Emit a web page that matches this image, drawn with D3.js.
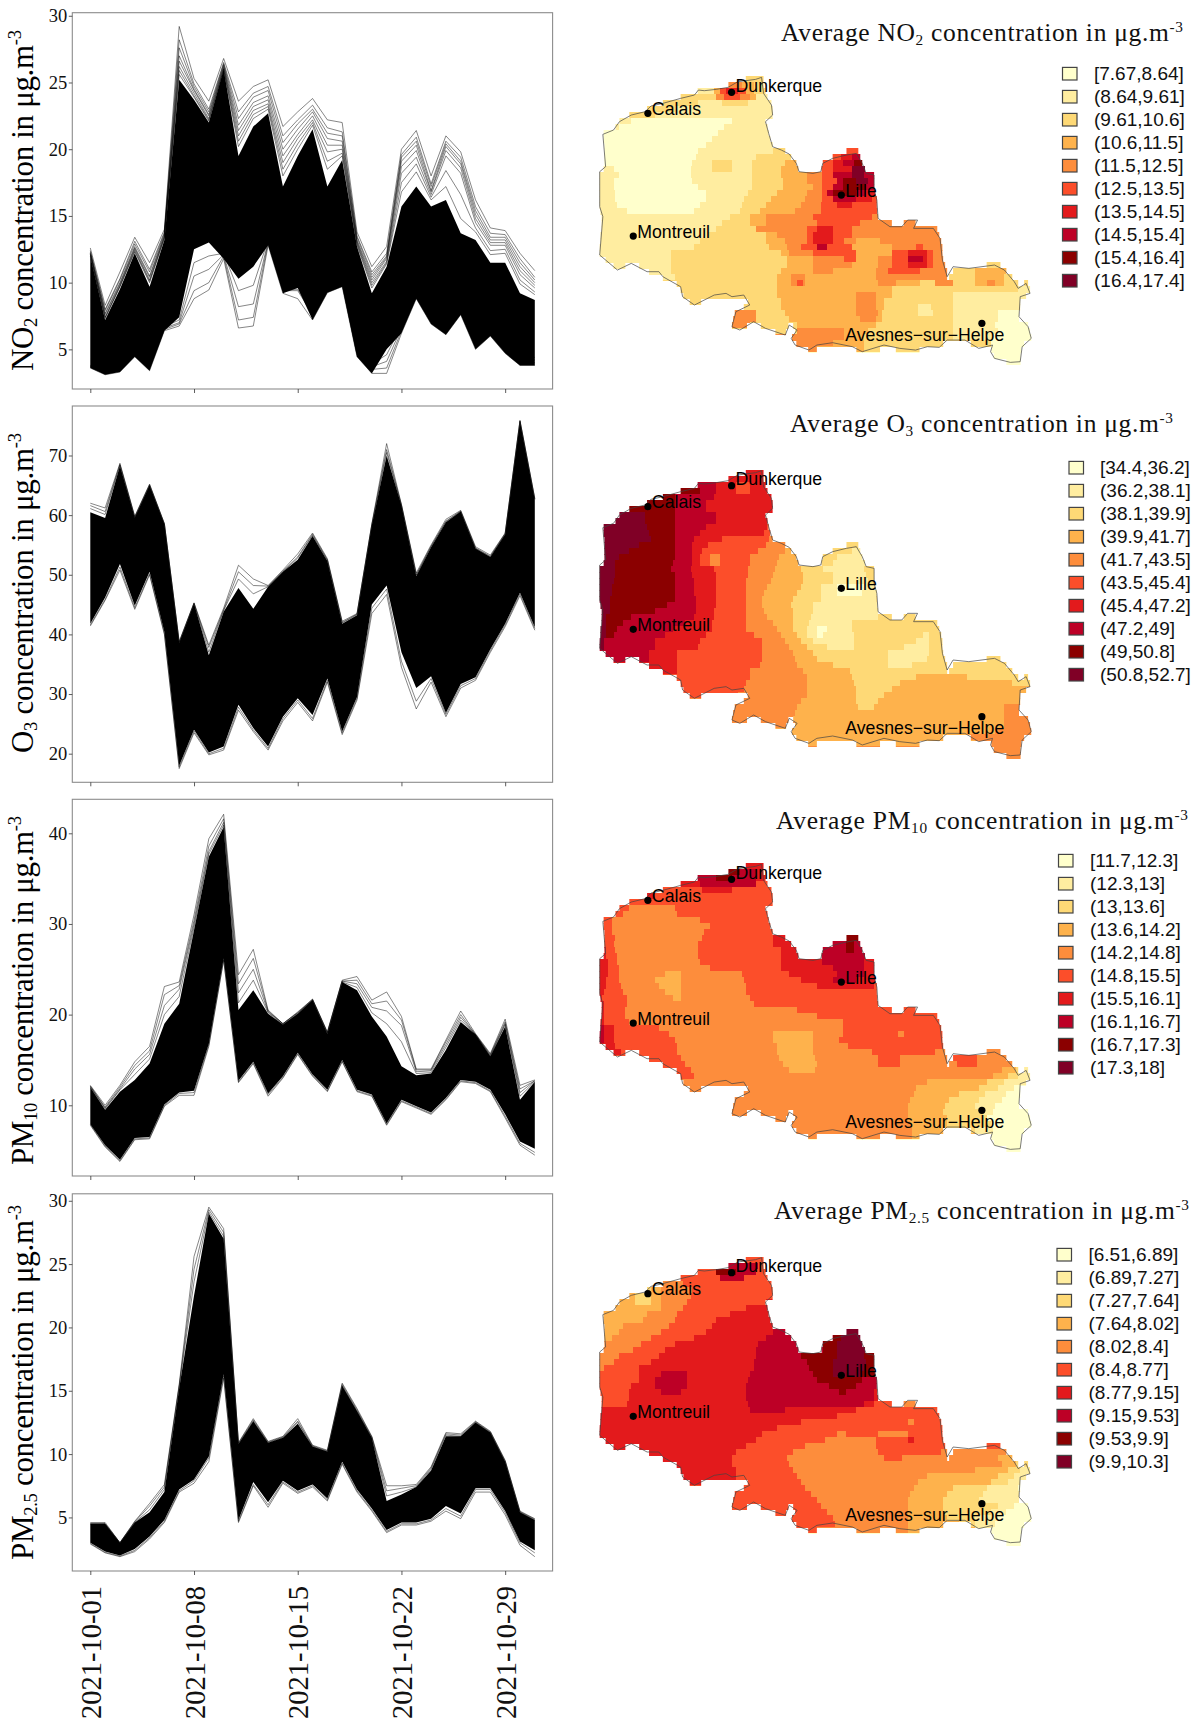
<!DOCTYPE html>
<html>
<head>
<meta charset="utf-8">
<script src="https://cdn.jsdelivr.net/npm/d3@7"></script>
<style>
  body { margin: 0; background: #fff; overflow: hidden; }
  svg { display: block; }
</style>
</head>
<body>
<script>
var width = 1199;
var height = 1720;

// time series (Oct 1 to Oct 31)
// Max/Min = outermost thin line, Top/Bottom = edges of the solid black mass
var no2Max = [12.6,8.3,10.8,13.4,11.5,14,29.2,25.3,23.6,26.8,23.6,24.7,25.2,21.7,22.8,23.8,22.2,22,13.8,11.2,12.7,20,21.4,18,21,19.8,16.2,14.1,13.9,12.2,10.9];
var no2Top = [12,7.2,9.5,12.2,9.7,13.2,25.2,23.7,22,26,19.5,21.7,22.7,17.2,19.5,21.5,17.2,19.2,12.7,9.2,11.2,15.7,17.2,15.7,16.2,13.7,13.2,11.5,11.5,9.2,8.7];
var no2Bottom = [3.6,3.1,3.3,4.45,3.4,6.4,7.4,12.5,13,11.8,10.3,11.2,12.8,9.2,9.6,7.2,9.25,9.7,4.45,3.2,5,6.2,8.8,6.9,6.1,7.6,5,6,4.7,3.8,3.8];
var no2Min = [3.6,3.1,3.3,4.45,3.4,6.4,6.75,8.8,9.45,11.8,6.6,6.75,12.8,9.2,8.8,7.2,9.25,9.7,4.45,3.2,3.2,6.2,8.8,6.9,6.1,7.6,5,6,4.7,3.8,3.8];
var no2Lines = [
  [12.4,8,10.3,13.1,11,13.8,28.2,24.9,23,26.5,22.8,24.2,24.7,21,22.2,23.3,21.6,21.3,13.5,10.8,12.2,19.6,20.9,17.4,20.6,19.4,15.7,13.7,13.6,11.8,10.4],
  [12.3,7.9,10.2,12.9,10.8,13.7,27.6,24.7,22.8,26.4,22.3,23.9,24.4,20.5,21.9,23,21.2,21,13.4,10.6,12,19.4,20.6,17.2,20.4,19.1,15.4,13.4,13.4,11.5,10.2],
  [12.2,7.7,10,12.7,10.5,13.6,27,24.5,22.6,26.3,21.8,23.5,24,20,21.5,22.8,20.8,20.6,13.2,10.4,11.9,19.1,20.3,16.9,20.2,18.9,15.1,13.2,13.2,11.2,10],
  [12.2,7.6,9.9,12.6,10.4,13.5,26.6,24.4,22.5,26.2,21.4,23.2,23.7,19.5,21.1,22.5,20.3,20.3,13.1,10.2,11.8,18.7,19.9,16.8,19.9,18.6,14.8,13,13,10.9,9.8],
  [12.1,7.4,9.8,12.5,10.2,13.4,26.2,24.2,22.3,26.1,21,22.9,23.4,19,20.8,22.2,19.8,20,13,10,11.6,18.2,19.4,16.6,19.5,18.2,14.5,12.8,12.8,10.6,9.6],
  [12.1,7.4,9.7,12.4,10.1,13.4,25.9,24,22.2,26,20.6,22.6,23.2,18.5,20.4,22,19.1,19.7,12.9,9.8,11.5,17.5,18.9,16.4,18.4,16.6,14.1,12.4,12.5,10.2,9.3],
  [12,7.3,9.7,12.3,10,13.3,25.6,23.9,22.1,26,20.2,22.3,23,18,20,21.8,18.5,19.5,12.8,9.6,11.4,16.8,18.3,16.2,17.2,14.8,13.8,12.1,12.2,9.9,9.1],
  [3.7,3.2,3.4,4.6,3.6,6.5,6.9,9.4,10,12,7.2,7.4,13,9.4,9.4,7.6,9.5,9.9,4.6,3.5,3.6,6.4,9,7.1,6.3,7.8,5.2,6.2,4.9,4,4],
  [3.7,3.3,3.5,4.7,3.7,6.6,7,10.5,11,12.1,8.2,8.4,13.1,9.5,9.5,7.8,9.7,10,4.7,3.7,4.1,6.6,9.2,7.3,6.5,8,5.4,6.4,5.1,4.2,4.2],
  [3.8,3.4,3.6,4.8,3.8,6.7,7.2,11.5,12,12.2,9.4,9.8,13.2,9.6,9.7,8,9.9,10.2,4.8,3.9,4.6,6.8,9.4,7.5,6.8,8.2,5.6,6.6,5.3,4.4,4.4]
];

var o3Max = [62,61.2,68.7,59.8,65.2,58.6,38.8,45.3,38.2,44.4,51.6,49.3,48.2,50.8,53.5,57,52.7,42.2,43.5,58.5,72,61.8,50.3,55,59.3,60.8,54.7,53.3,57,75.9,62.8];
var o3Top = [60.5,59.5,68.3,59.6,65,58.5,38.6,45.2,36.5,43.8,47.8,44.3,48,50.5,52.5,56.5,52.3,41.8,43.2,58.3,70,61.6,49.8,54.6,58.8,60.6,54.4,53,56.8,75.7,62.6];
var o3Bottom = [41.8,46.2,51.8,44.8,50.5,40.4,18,24,20.2,21.2,28.2,24.3,21.2,26.2,29.3,26.5,32.6,23.7,29.5,45,48.2,37,31,33,26.8,31.7,32.8,37.5,41.8,47,41.2];
var o3Min = [41.4,45.7,50.8,44.2,50,40,17.5,23.5,19.8,20.6,27.3,23.7,20.6,25.5,28.6,25.5,32,23.2,29,43.5,46.7,34.5,27.5,32,26.2,31,32.3,37,41.3,46.5,40.7];
var o3Lines = [
  [61.6,60.6,68.5,59.7,65.1,58.5,38.7,45.2,37.8,44.1,50.5,48.2,48.1,50.6,53,56.8,52.5,42,43.4,58.4,71,61.7,50,54.8,59,60.7,54.5,53.1,56.9,75.8,62.7],
  [61.1,60.1,68.4,59.6,65,58.5,38.6,45.2,37,44,49.3,46.8,48,50.5,52.8,56.6,52.4,41.9,43.3,58.3,70.5,61.6,49.9,54.7,58.9,60.6,54.4,53,56.8,75.7,62.6],
  [41.6,45.9,51.3,44.5,50.2,40.2,17.8,23.8,20,20.9,27.8,24,20.9,25.9,29,25.9,32.3,23.5,29.3,44.4,47.6,35.5,28.8,32.6,26.6,31.4,32.6,37.3,41.6,46.8,41]
];

var pm10Max = [12.2,10,12.2,14.8,16.5,23.1,23.6,31,39.4,42.1,24.4,27.2,20.5,19,20.3,21.7,18.1,23.8,24.2,21.6,22.5,19.8,14,14,17.2,20.4,17.9,15.7,19.5,12.2,12.8];
var pm10Top = [12,9.5,11.5,12.8,14.6,19,21.2,29.3,37.4,40.7,20.5,22.7,20.1,18.9,20.1,21.6,17.9,23.6,22.7,19.8,17.6,14.3,13.3,13.5,16.1,19.2,17.8,15.4,18.7,10.6,12.6];
var pm10Bottom = [7.9,5.6,4,6.4,6.5,10.1,11.4,11.6,16.8,26.2,12.7,14.8,11.3,13.2,15.8,13.4,11.7,15,11.7,11.2,8,10.6,9.9,9.2,10.8,12.8,12.6,11.7,9,6,5.2];
var pm10Min = [7.8,5.4,3.8,6.2,6.3,9.9,11.1,11.1,16.5,26,12.5,14.6,11,13,15.6,13.2,11.5,14.8,11.5,11,7.8,10.4,9.7,9,10.6,12.6,12.4,11.5,8.6,5.6,4.5];
var pm10Lines = [
  [12.1,9.8,12,14.4,16,22.2,23.2,30.4,38.6,41.6,23.4,26.2,20.4,19,20.2,21.7,18,23.7,23.8,21.2,21.5,19.4,13.9,13.9,17,20,17.8,15.6,19.2,11.8,12.7],
  [12.1,9.7,11.8,14,15.6,21,22.8,30,38,41.2,22.4,25,20.3,19,20.2,21.6,18,23.7,23.4,20.8,20.4,18.8,13.7,13.8,16.7,19.7,17.8,15.5,19,11.4,12.7],
  [12,9.6,11.7,13.4,15.1,20,22,29.6,37.7,40.9,21.3,23.8,20.2,18.9,20.1,21.6,17.9,23.6,23,20.2,19,17,13.5,13.6,16.4,19.4,17.8,15.4,18.9,11,12.6],
  [7.9,5.5,3.9,6.3,6.4,10,11.3,11.4,16.7,26.1,12.6,14.7,11.2,13.1,15.7,13.3,11.6,14.9,11.6,11.1,7.9,10.5,9.8,9.1,10.7,12.7,12.5,11.6,8.8,5.8,4.8]
];

var pm25Max = [4.6,4.6,3,4.7,6.1,7.6,15.5,25.6,29.5,27.8,10.9,12.8,11,11.4,12.8,10.7,10.3,15.6,13.6,11.4,7.5,7.5,7.6,9,11.7,11.6,12.6,11.8,9.5,5.5,4.9];
var pm25Top = [4.5,4.5,3,4.6,5.4,7,15.2,22.5,29,27,10.8,12.6,10.9,11.3,12.4,10.6,10.2,15.4,13.4,11.3,6.3,6.8,7.4,8.7,11.4,11.4,12.5,11.7,9.4,5.4,4.8];
var pm25Bottom = [3,2.3,2,2.5,3.5,4.8,7.2,8,9.8,16.3,4.8,7.8,6.2,7.9,7.1,7.6,6.5,9.4,7.2,5.7,4,4.6,4.6,4.9,5.9,5.3,7.3,7.3,5.5,3.1,2.4];
var pm25Min = [2.9,2.2,1.9,2.3,3.3,4.6,7,7.7,9.4,16,4.6,7.5,5.8,7.7,6.9,7.4,6.3,9.2,7,5.5,3.8,4.4,4.4,4.7,5.5,4.9,7,7,5.2,2.8,1.9];
var pm25Lines = [
  [4.5,4.5,3,4.65,5.9,7.4,15.4,24.6,29.3,27.5,10.85,12.7,10.95,11.35,12.6,10.65,10.25,15.5,13.5,11.35,7.1,7.3,7.5,8.9,11.6,11.5,12.55,11.75,9.45,5.45,4.85],
  [4.5,4.5,3,4.6,5.6,7.2,15.3,23.6,29.1,27.2,10.8,12.6,10.9,11.3,12.5,10.6,10.2,15.4,13.4,11.3,6.7,7,7.4,8.8,11.5,11.4,12.5,11.7,9.4,5.4,4.8],
  [2.95,2.25,1.95,2.4,3.4,4.7,7.1,7.9,9.7,16.2,4.7,7.6,6,7.8,7,7.5,6.4,9.3,7.1,5.6,3.9,4.5,4.5,4.8,5.7,5.1,7.2,7.2,5.4,3,2.2]
];

var no2Ticks = [5,10,15,20,25,30];
var o3Ticks = [20,30,40,50,60,70];
var pm10Ticks = [10,20,30,40];
var pm25Ticks = [5,10,15,20,25,30];
var dateTicks = ['2021-10-01','2021-10-08','2021-10-15','2021-10-22','2021-10-29'];

// legend classes
var no2Classes = ['[7.67,8.64]','(8.64,9.61]','(9.61,10.6]','(10.6,11.5]','(11.5,12.5]','(12.5,13.5]','(13.5,14.5]','(14.5,15.4]','(15.4,16.4]','(16.4,17.4]'];
var o3Classes = ['[34.4,36.2]','(36.2,38.1]','(38.1,39.9]','(39.9,41.7]','(41.7,43.5]','(43.5,45.4]','(45.4,47.2]','(47.2,49]','(49,50.8]','(50.8,52.7]'];
var pm10Classes = ['[11.7,12.3]','(12.3,13]','(13,13.6]','(13.6,14.2]','(14.2,14.8]','(14.8,15.5]','(15.5,16.1]','(16.1,16.7]','(16.7,17.3]','(17.3,18]'];
var pm25Classes = ['[6.51,6.89]','(6.89,7.27]','(7.27,7.64]','(7.64,8.02]','(8.02,8.4]','(8.4,8.77]','(8.77,9.15]','(9.15,9.53]','(9.53,9.9]','(9.9,10.3]'];
var classColors = ['#ffffcc','#ffeda0','#fed976','#feb24c','#fd8d3c','#fc4e2a','#e31a1c','#bd0026','#8b0000','#800026'];

// map rasters: one entry per grid row, [class, easting, class, easting, class ...]
// eastings in map units, the class changes at each easting
var no2Rows = [
  [2],[2,375,4,410,3,440,2],[1,340,3,355,5,370,6,400,5,420,3,440,2],[2,345,4,365,5,405,4,430,3,445,1],
  [2,300,1,360,2,425,1],[2,240,1],[2,190,1],[1,130,0,385,1],[1,100,0,365,1],[0,350,1],[0,335,1],[0,320,1],
  [0,300,1,490,2,600,5],[0,295,1,445,2,600,5,660,6,690,7],[0,285,1,335,2,385,1,435,2,520,3,600,5,640,6,665,7,695,8],
  [1,85,0,280,1,335,2,385,1,435,2,510,3,600,5,640,6,690,9],[1,100,0,280,1,435,2,510,3,575,4,612,5,640,7,690,9,720,7],
  [1,85,0,285,1,435,2,515,3,575,4,612,5,650,7,665,8,700,9,730,7],[1,85,0,300,1,435,2,515,3,590,4,612,5,640,7,665,8,725,7],
  [1,90,0,320,1,425,2,500,3,575,4,612,5,625,7,640,8,700,7,725,6],[1,90,0,320,1,415,2,485,3,570,4,612,5,640,7,700,6,740,5],
  [1,95,0,305,1,410,2,470,3,560,4,610,5,650,6,690,5],[1,120,0,290,1,405,2,455,3,545,4,610,5],[1,380,2,430,3,470,4,590,5,740,4],
  [1,360,2,430,3,470,4,600,5,710,4],[1,345,2,445,4,575,5,600,6,640,5,690,4],[1,325,2,470,3,500,4,575,5,590,6,640,5,690,4],
  [1,305,2,470,3,520,4,575,5,590,6,640,5,670,4,700,3,760,4],[1,290,2,480,3,525,4,560,5,600,7,625,5,690,3,790,4,850,5,870,4],
  [1,230,2,510,3,530,4,590,5,700,3,790,5,830,6,880,5,895,4],[1,230,2,525,3,590,4,670,5,700,3,755,4,790,5,830,7,870,6,880,5,895,4],
  [1,230,2,525,3,590,4,690,3,755,4,790,5,830,6,880,5,895,4,930,2],[1,230,2,510,3,590,4,640,3,750,4,780,5,860,4,940,2,1000,3],
  [1,240,2,500,3,535,4,570,3,750,4,930,2,1000,3,1075,2],[2,500,3,535,4,550,5,565,4,570,3,755,4,800,3,860,2,900,4,945,2,1000,3,1030,4,1050,3,1075,2],
  [2,500,3,790,2,1110,1],[2,500,3,700,4,750,3,790,2,945,1],[2,510,3,700,4,750,3,770,2,945,1],[2,510,3,700,4,750,3,770,2,855,1,890,2,945,1],
  [4,445,2,520,3,700,4,755,3,765,2,855,1,895,2,945,1,1060,0],[4,445,2,530,3,710,4,750,3,765,2,945,1,1060,0],[4,430,2,550,3,750,2,945,1,1050,0],
  [2,550,4,670,3,730,2,945,1,1060,0],[4,670,3,720,2,945,1,1045,0],[4,640,3,720,2,1040,0],[4,600,3,720,2,1040,0],[0],[0]
];
var o3Rows = [
  [6],[6],[7,345,6,395,5,430,6],[8,305,7,345,6,395,5,430,6],[8,240,7,340,6],[8,240,7,320,6],[8,240,7,320,6],[9,165,8,240,7,345,6],[9,165,8,240,7,345,6],
  [9,170,8,240,7,320,6,475,5],[9,175,8,240,7,305,6,465,5],[9,180,8,240,7,290,6,360,5,480,4],[9,150,8,240,7,285,6,325,5,470,4,650,2],
  [9,125,8,240,7,285,6,310,5,450,4,520,3,600,2,690,1],[9,100,8,240,7,285,6,305,5,330,4,355,5,430,4,505,3,600,2,650,1],
  [9,90,8,235,7,285,6,305,5,330,4,355,5,430,4,500,3,600,2,640,1],[9,90,8,230,7,280,6,340,5,425,4,495,3,560,2,615,1,720,2],
  [9,90,8,240,7,285,6,345,5,425,4,490,3,565,2,640,1,725,2],[9,85,8,240,7,290,6,345,5,420,4,485,3,565,2,640,1,730,2],
  [9,80,8,240,7,290,6,345,5,420,4,475,3,560,2,610,1,650,0,720,1],[9,80,8,240,7,290,6,345,5,420,4,465,3,550,2,610,1,650,0,715,1],
  [9,75,8,240,7,295,6,345,5,420,4,460,3,540,2,610,1,750,2],[9,75,8,220,7,295,6,345,5,420,4,460,3,535,2,590,1,755,2],
  [9,75,8,190,7,295,6,340,5,420,4,465,3,540,2,590,1,755,2],[9,65,8,130,7,290,6,340,5,420,4,475,3,540,2,585,1,755,2],
  [9,65,8,110,7,265,6,335,5,420,4,490,3,540,2,580,1,690,2],[9,65,8,95,7,235,6,335,5,420,4,500,3,540,2,575,1,600,0,625,1,690,2],
  [9,65,8,85,7,215,6,320,5,440,4,510,3,550,2,575,1,600,0,615,1,695,2,870,1,885,2],[9,60,7,190,6,305,5,460,4,520,3,560,2,590,1,695,2,850,1,885,2],
  [9,60,7,190,6,300,5,460,4,530,3,575,2,625,1,695,2,820,1,885,2],[7,175,6,245,5,460,4,540,3,590,2,780,1,885,2],[7,175,6,245,5,460,4,545,3,600,2,780,1,880,2],
  [6,245,5,455,4,550,3,640,2,780,1,840,2],[6,245,5,430,4,565,3,685,2],[5,430,4,575,3,690,2,850,3,980,2],[5,420,4,575,3,695,2,810,3,1095,2],
  [5,415,4,575,3,700,2,790,3],[5,400,4,575,3,700,2,770,3],[4,560,3,700,2,755,3],[4,550,3,705,2,745,3,1075,4],[4,545,3,1075,4],[4,540,3,1075,4],
  [4,545,3,1075,4],[3,1050,4],[3,985,4],[3,1000,4],[4],[4]
];
var pm10Rows = [
  [6],[8,405,7,445,6],[7,345,8,385,7,445,6],[6,305,7,445,5],[5,310,6,385,5],[6,190,5],[5],[5,125,4,240,5],[5,110,4,245,5],[5,80,4,305,5],[5,80,4,330,5],
  [5,80,4,315,5,490,6],[5,90,4,310,5,490,6,600,8],[5,85,4,300,5,490,6,600,7,675,8,695,7],[6,65,5,90,4,300,5,510,6,600,7,675,8,695,7],
  [6,65,5,95,4,300,5,510,6,612,7],[6,70,5,95,4,305,5,510,6,612,7,720,6],[6,70,5,100,4,330,5,510,6,640,7,720,6],[6,70,5,100,4,215,3,255,4,410,5,530,6,650,7,720,6],
  [6,65,5,100,4,190,3,255,4,415,5,560,6,640,7,700,6],[6,65,5,105,4,200,3,255,4,420,5,600,6,745,5],[6,60,5,110,4,215,3,255,4,420,5],[6,55,5,120,4,235,3,255,4,430,5],
  [6,60,5,120,4,440,5],[6,60,5,115,4,550,5],[6,60,5,115,4,600,5],[6,60,5,125,4,665,5],[7,60,6,85,5,200,4,665,5],[7,60,6,85,5,225,4,490,3,590,4,665,5,805,4,820,5],
  [7,60,6,85,5,240,4,490,3,590,4,655,5],[6,90,5,245,4,500,3,590,4,680,5],[6,105,5,245,4,500,3,590,4,740,5,900,4],[5,255,4,505,3,595,4,755,5,810,4,945,5,1005,4],
  [5,265,4,515,3,600,4,755,5,810,4,955,5,1005,4,1095,3],[5,280,4,530,3,595,4,1070,3,1105,2,1125,1],[5,290,4,1045,3,1085,2,1110,1],[4,880,3,1030,2,1075,1],
  [4,850,3,1010,2,1060,1,1100,0],[4,845,3,960,2,1025,1,1080,0],[4,835,3,935,2,1010,1,1070,0],[4,830,3,925,2,1000,1,1050,0],[4,830,3,920,2,1020,1,1045,0],
  [4,830,3,930,2,1030,0],[4,835,3,930,2,1040,0],[4,840,3,930,2,1000,1,1045,0],[4,840,3,1000,1,1040,0],[0],[0]
];
var pm25Rows = [
  [5],[7,450,5],[5,345,8,395,7,445,5],[5,355,7,415,5],[3,205,4,260,5],[2,180,3,205,4,285,5],[3,140,2,180,3,205,4,280,5],[3,140,2,180,3,205,4,270,5,470,6],
  [3,205,4,260,5,420,6],[3,170,4,245,5,380,6],[3,160,4,240,5,345,6],[3,110,4,225,5,335,6],[3,100,4,205,5,320,6,490,7,600,9],[3,80,4,180,5,290,6,470,7,640,8,660,9],
  [4,155,5,240,6,450,7,615,8,650,9],[4,135,5,215,6,445,7,615,8,650,9],[4,100,5,200,6,445,7,560,8,650,9,720,8],[4,85,5,180,6,440,7,575,8,640,9,725,8],
  [4,60,5,150,6,440,7,580,8,640,9,720,8],[5,150,6,205,7,270,6,430,7,590,8,640,9,715,8],[5,150,6,190,7,270,6,425,7,600,8,715,7],[5,130,6,190,7,270,6,420,7,630,8,700,7],
  [5,125,6,205,7,255,6,420,7,655,8,675,7,745,6],[5,125,6,420,7,745,6],[5,120,6,425,7,720,6,745,5,820,4],[6,430,7,520,6,700,5],[6,650,5],[6,560,5,830,4,845,5],
  [6,500,5],[6,460,5,650,4,675,5,755,4,830,5],[6,445,5,620,4,750,5,830,6,845,5],[6,420,5,570,4,750,5],[6,395,5,540,4,755,5,915,4],[6,385,5,525,4,770,5,815,4,1060,3],
  [6,385,5,530,4,1070,3,1105,2],[6,395,5,540,4,1000,3,1085,2,1115,1],[6,395,5,550,4,880,3,1060,2,1100,1],[6,395,5,560,4,855,3,1040,2,1085,1],
  [5,570,4,845,3,945,2,1030,1,1110,0],[5,585,4,835,3,930,2,1020,1],[5,600,4,830,3,920,2,1010,1],[5,610,4,830,3,920,2,1060,1,1100,0],[5,625,4,830,3,920,2,1040,1,1080,0],
  [5,640,4,830,3,930,2,1000,1,1060,0],[5,645,4,830,3,960,2,1000,1,1050,0],[5,600,4,830,3,1000,1,1040,0],[0],[0]
];

// land extent of each grid row: pairs of eastings
var maskRows = [
  [420,465],[376,465],[298,470],[255,475],[210,485],[170,488],[125,488],[100,470],[90,475],[60,478],[60,482],[62,488],
  [62,520,675,705],[62,535,640,710],[62,548,615,715],[60,553,612,722],[50,745],[50,745],[50,745],[50,748],[50,752],[50,752],[52,753],[55,755],
  [55,790,820,850],[55,905],[52,910],[52,915],[50,918],[50,918],[65,920],[85,115,150,925,1030,1065],[175,930,945,1080],[210,930,935,1095],
  [245,1110,1125,1135],[255,1140],[262,1130],[278,307,425,1115],[415,1115],[392,1112],[388,1112],[385,423,458,528,540,1135],[495,522,545,1140],
  [537,1143],[548,920,990,1125],[578,600,700,760,800,860,1042,1118],[1048,1116],[1080,1116]
];

// region border, map units
var borderX = [58,85,100,130,165,180,210,255,290,300,315,345,375,400,445,460,465,485,488,470,478,488,510,530,548,555,590,610,615,640,675,700,715,725,745,745,752,755,785,815,830,855,845,895,912,918,930,945,985,1050,1075,1100,1110,1130,1140,1115,1112,1135,1143,1120,1115,1090,1050,1040,1045,1010,975,930,910,880,850,810,770,715,690,640,600,580,545,535,550,530,520,470,440,405,385,395,430,415,385,370,340,290,260,255,210,200,170,130,95,50,58,50,50,65,58];
var borderY = [403,390,365,345,335,318,310,295,285,270,272,268,262,245,238,232,280,315,345,365,400,440,450,462,490,515,520,515,490,475,465,460,490,520,525,570,600,655,680,680,660,660,685,685,715,780,830,800,805,795,810,845,865,850,880,890,950,980,1015,1040,1085,1087,1075,1055,1035,1045,1020,1020,1042,1040,1050,1045,1035,1055,1040,1028,1035,1050,1035,1015,990,975,1005,985,965,990,980,935,915,885,890,880,885,915,890,860,830,815,815,790,810,765,650,620,515,500,403];

var cityNames = ['Calais','Dunkerque','Lille','Montreuil','Avesnes\u2212sur\u2212Helpe'];
var cityX = [172,384,662,135,1018];
var cityY = [340,277,585,708,970];

var dates = d3.utcDay.range(new Date(Date.UTC(2021, 9, 1)), new Date(Date.UTC(2021, 10, 1)));
var parseDay = d3.utcParse('%Y-%m-%d');

var panels = [
  { max: no2Max, top: no2Top, bottom: no2Bottom, min: no2Min, lines: no2Lines, ticks: no2Ticks, yTop: 12.7, yBottom: 389, lo: 2.03, hi: 30.23,
    label: ['NO', '2', ' concentration in \u03bcg.m', '-3'], labelFrom: 371, labelTo: 30,
    title: ['Average NO', '2', ' concentration in \u03bcg.m', '-3'], titleX: 781, titleW: 402, titleY: 41,
    rows: no2Rows, classes: no2Classes, legendX: 1062.5, legendText: 1094, legendY: 73.7, mapShift: 0 },
  { max: o3Max, top: o3Top, bottom: o3Bottom, min: o3Min, lines: o3Lines, ticks: o3Ticks, yTop: 406, yBottom: 782.3, lo: 15.2, hi: 78.3,
    label: ['O', '3', ' concentration in \u03bcg.m', '-3'], labelFrom: 753, labelTo: 433,
    title: ['Average O', '3', ' concentration in \u03bcg.m', '-3'], titleX: 790, titleW: 383, titleY: 432,
    rows: o3Rows, classes: o3Classes, legendX: 1069, legendText: 1100, legendY: 467.7, mapShift: 393.3 },
  { max: pm10Max, top: pm10Top, bottom: pm10Bottom, min: pm10Min, lines: pm10Lines, ticks: pm10Ticks, yTop: 799.3, yBottom: 1176, lo: 2.2, hi: 43.75,
    label: ['PM', '10', ' concentration in \u03bcg.m', '-3'], labelFrom: 1165, labelTo: 816,
    title: ['Average PM', '10', ' concentration in \u03bcg.m', '-3'], titleX: 776, titleW: 412, titleY: 829,
    rows: pm10Rows, classes: pm10Classes, legendX: 1058.5, legendText: 1090, legendY: 860.7, mapShift: 787 },
  { max: pm25Max, top: pm25Top, bottom: pm25Bottom, min: pm25Min, lines: pm25Lines, ticks: pm25Ticks, yTop: 1193.8, yBottom: 1571, lo: 0.77, hi: 30.55,
    label: ['PM', '2.5', ' concentration in \u03bcg.m', '-3'], labelFrom: 1560, labelTo: 1205,
    title: ['Average PM', '2.5', ' concentration in \u03bcg.m', '-3'], titleX: 774, titleW: 415, titleY: 1219,
    rows: pm25Rows, classes: pm25Classes, legendX: 1057, legendText: 1088.5, legendY: 1254.7, mapShift: 1180.3 }
];

var svg = d3.select('body')
  .append('svg')
  .attr('width', width)
  .attr('height', height)
  .attr('viewBox', '0 0 ' + width + ' ' + height);

var serif = '"Liberation Serif", serif';
var sans = '"Liberation Sans", Arial, sans-serif';

var xScale = d3.scaleUtc()
  .domain([dates[0], dates[dates.length - 1]])
  .range([90.3, 534.8]);

// the text pieces are [plain, subscript, plain, superscript]
function richText(sel, parts, size) {
  var shift = size * 0.16;
  var up = size * 0.36;
  sel.append('tspan').text(parts[0]);
  sel.append('tspan').attr('dy', shift).attr('font-size', size * 0.6).text(parts[1]);
  sel.append('tspan').attr('dy', -shift).text(parts[2]);
  sel.append('tspan').attr('dy', -up).attr('font-size', size * 0.6).text(parts[3]);
}

panels.forEach(function(p, idx) {
  var yScale = d3.scaleLinear()
    .domain([p.lo, p.hi])
    .range([p.yBottom, p.yTop]);

  var g = svg.append('g');

  g.append('rect')
    .attr('x', 72.3)
    .attr('y', p.yTop)
    .attr('width', 480.3)
    .attr('height', p.yBottom - p.yTop)
    .attr('fill', '#fff')
    .attr('stroke', '#8c8c8c')
    .attr('stroke-width', 1.1);

  var area = d3.area()
    .x(function(d, i) { return xScale(dates[i]); })
    .y0(function(d, i) { return yScale(p.bottom[i]); })
    .y1(function(d) { return yScale(d); });

  g.append('path')
    .datum(p.top)
    .attr('d', area)
    .attr('fill', '#000');

  var line = d3.line()
    .x(function(d, i) { return xScale(dates[i]); })
    .y(function(d) { return yScale(d); });

  g.selectAll('path.series')
    .data([p.max, p.min].concat(p.lines))
    .enter()
    .append('path')
    .attr('class', 'series')
    .attr('d', line)
    .attr('fill', 'none')
    .attr('stroke', '#000')
    .attr('stroke-opacity', 0.8)
    .attr('stroke-width', 0.6);

  var yAxis = d3.axisLeft(yScale)
    .tickValues(p.ticks)
    .tickSize(3.5)
    .tickPadding(1.5);

  var yG = g.append('g')
    .attr('transform', 'translate(72.3,0)')
    .call(yAxis);
  yG.select('.domain').remove();
  yG.selectAll('line').attr('stroke', '#333').attr('stroke-width', 0.8);
  yG.selectAll('text')
    .attr('font-family', serif)
    .attr('font-size', 18.5)
    .attr('fill', '#111');

  var xAxis = d3.axisBottom(xScale)
    .tickValues(dateTicks.map(parseDay))
    .tickSize(4)
    .tickFormat(idx === 3 ? d3.utcFormat('%Y-%m-%d') : '');

  var xG = g.append('g')
    .attr('transform', 'translate(0,' + p.yBottom + ')')
    .call(xAxis);
  xG.select('.domain').remove();
  xG.selectAll('line').attr('stroke', '#333').attr('stroke-width', 0.8);
  xG.selectAll('text')
    .attr('font-family', serif)
    .attr('font-size', 28.5)
    .attr('fill', '#111')
    .attr('text-anchor', 'end')
    .attr('transform', 'rotate(-90)')
    .attr('x', -15)
    .attr('y', 0)
    .attr('dx', 0)
    .attr('dy', 10);

  // y title
  var yLabel = g.append('text')
    .attr('transform', 'translate(32.5,' + p.labelFrom + ') rotate(-90)')
    .attr('font-family', serif)
    .attr('font-size', 31)
    .attr('fill', '#000')
    .attr('textLength', p.labelFrom - p.labelTo)
    .attr('lengthAdjust', 'spacing');
  richText(yLabel, p.label, 31);

  // map title
  var title = g.append('text')
    .attr('x', p.titleX)
    .attr('y', p.titleY)
    .attr('font-family', serif)
    .attr('font-size', 25.5)
    .attr('fill', '#111')
    .attr('textLength', p.titleW)
    .attr('lengthAdjust', 'spacing');
  richText(title, p.title, 25.5);

  // raster map
  var mapX = d3.scaleLinear().domain([48, 1152]).range([598.9, 1034.8]);
  var mapY = d3.scaleLinear().domain([230, 1094]).range([76.7 + p.mapShift, 364.7 + p.mapShift]);
  var rowScale = d3.scaleBand()
    .domain(d3.range(maskRows.length))
    .range([76.7 + p.mapShift, 364.7 + p.mapShift]);

  var clipId = 'land' + idx;
  var clip = g.append('clipPath').attr('id', clipId);
  maskRows.forEach(function(r, ri) {
    for (var k = 0; k < r.length; k += 2) {
      clip.append('rect')
        .attr('x', mapX(r[k]))
        .attr('y', Math.floor(rowScale(ri)))
        .attr('width', mapX(r[k + 1]) - mapX(r[k]))
        .attr('height', rowScale.bandwidth() + 1);
    }
  });

  var cells = [];
  p.rows.forEach(function(r, ri) {
    var from = 48;
    for (var k = 0; k < r.length; k += 2) {
      var to = k + 1 < r.length ? r[k + 1] : 1152;
      cells.push({ row: ri, from: from, to: to, cls: r[k] });
      from = to;
    }
  });

  g.append('g')
    .attr('clip-path', 'url(#' + clipId + ')')
    .attr('shape-rendering', 'crispEdges')
    .selectAll('rect')
    .data(cells)
    .enter()
    .append('rect')
    .attr('x', function(d) { return mapX(d.from); })
    .attr('y', function(d) { return Math.floor(rowScale(d.row)); })
    .attr('width', function(d) { return mapX(d.to) - mapX(d.from) + 0.5; })
    .attr('height', rowScale.bandwidth() + 1)
    .attr('fill', function(d) { return classColors[d.cls]; });

  var border = d3.line()
    .x(function(d) { return mapX(d); })
    .y(function(d, i) { return mapY(borderY[i]); });

  g.append('path')
    .datum(borderX)
    .attr('d', border)
    .attr('fill', 'none')
    .attr('stroke', '#444')
    .attr('stroke-width', 0.7);

  g.selectAll('circle.city')
    .data(cityNames)
    .enter()
    .append('circle')
    .attr('class', 'city')
    .attr('cx', function(d, i) { return mapX(cityX[i]); })
    .attr('cy', function(d, i) { return mapY(cityY[i]); })
    .attr('r', 3.6)
    .attr('fill', '#000');

  g.selectAll('text.city')
    .data(cityNames)
    .enter()
    .append('text')
    .attr('class', 'city')
    .attr('x', function(d, i) {
      return i === 4 ? mapX(672) : mapX(cityX[i]) + 4;
    })
    .attr('y', function(d, i) {
      if (i === 4) { return mapY(1023); }
      return mapY(cityY[i]) + (i === 1 ? -0.5 : 1.5);
    })
    .attr('font-family', sans)
    .attr('font-size', 17.7)
    .attr('fill', '#000')
    .text(function(d) { return d; });

  // legend
  var legendRow = d3.scaleBand()
    .domain(d3.range(p.classes.length))
    .range([p.legendY - 11.5, p.legendY - 11.5 + 230]);

  var legend = g.selectAll('g.legend')
    .data(p.classes)
    .enter()
    .append('g')
    .attr('class', 'legend')
    .attr('transform', function(d, i) {
      return 'translate(0,' + (legendRow(i) + legendRow.bandwidth() / 2) + ')';
    });

  legend.append('rect')
    .attr('x', p.legendX)
    .attr('y', -6.3)
    .attr('width', 14.5)
    .attr('height', 12.6)
    .attr('fill', function(d, i) { return classColors[i]; })
    .attr('stroke', '#444')
    .attr('stroke-width', 1.2);

  legend.append('text')
    .attr('x', p.legendText)
    .attr('y', 6.5)
    .attr('font-family', sans)
    .attr('font-size', 19)
    .attr('fill', '#111')
    .text(function(d) { return d; });
});
</script>
</body>
</html>
